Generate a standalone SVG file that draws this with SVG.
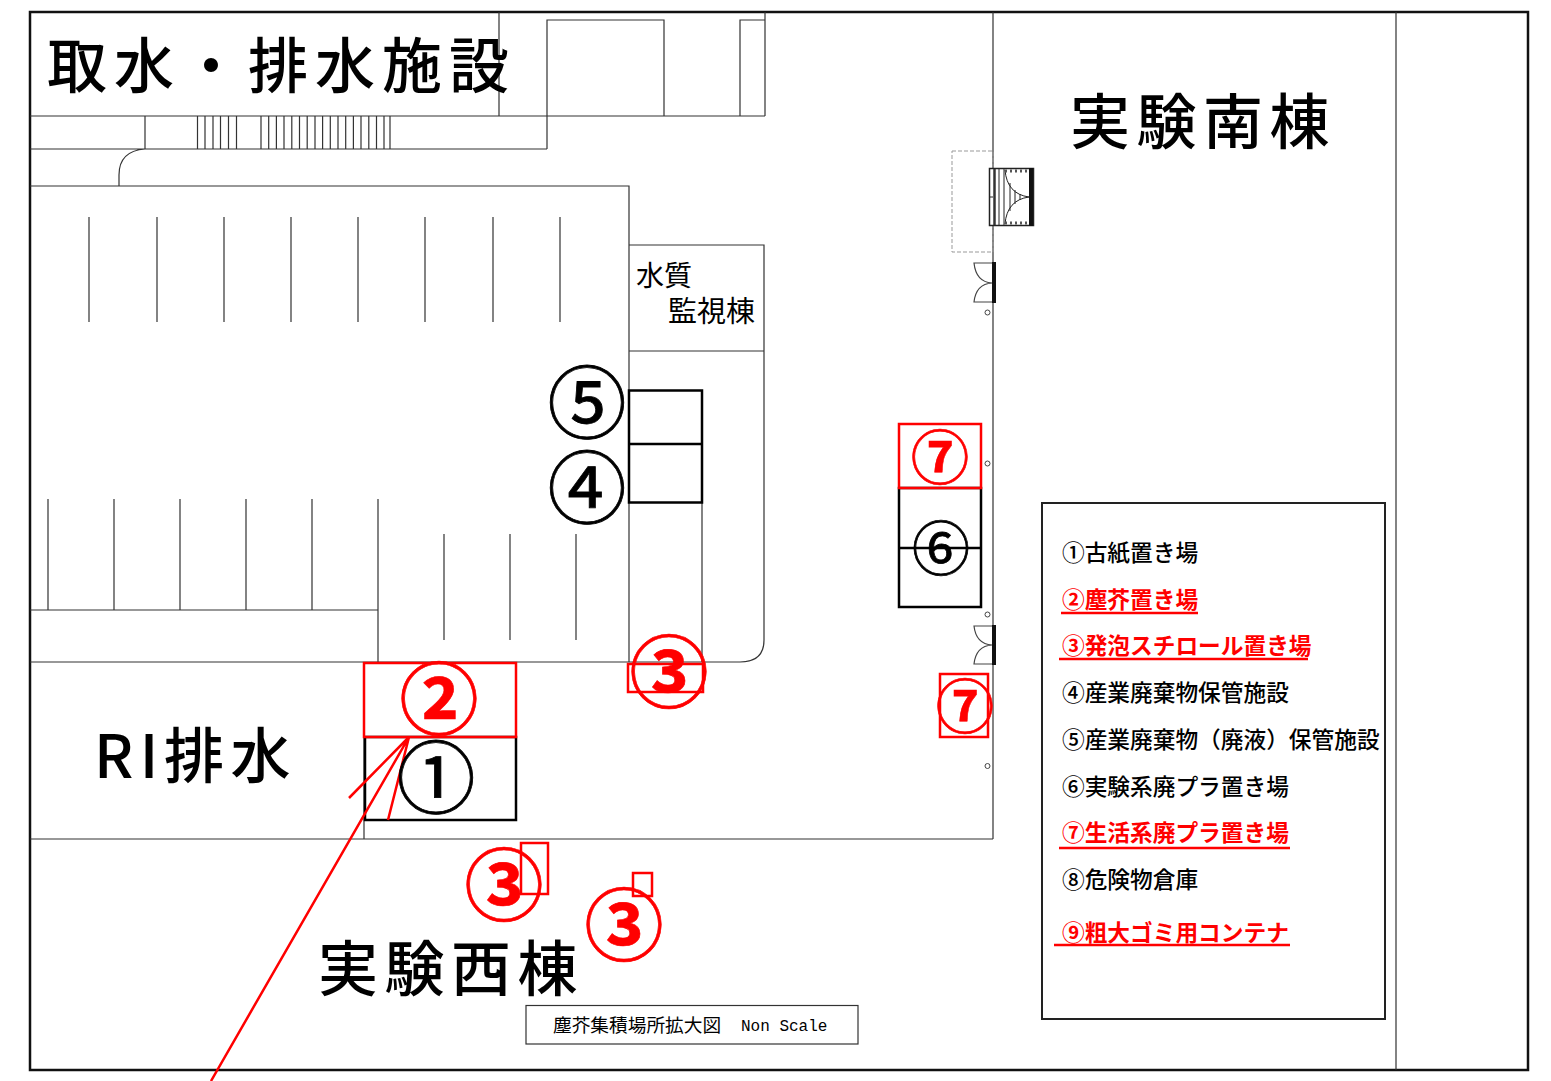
<svg xmlns="http://www.w3.org/2000/svg" width="1551" height="1081" viewBox="0 0 1551 1081">
<style>
text{font-family:"Noto Sans CJK JP","Noto Sans",sans-serif;fill:#000}
.l{fill:none;stroke:#333;stroke-width:1.2}
.k{fill:none;stroke:#000;stroke-width:2.5}
.r{fill:none;stroke:#f00;stroke-width:2.5}
.t{font-size:60px;letter-spacing:6.500px;font-weight:500}
.m{font-size:22.700px;font-weight:500}
.red{fill:#f00;font-weight:700}
.c{font-size:79px;text-anchor:middle;stroke:#000;stroke-width:.8}
.cr{fill:#f00;stroke:#f00;font-weight:700;stroke-width:.6}
.c7{font-size:58px;text-anchor:middle}
</style>
<rect width="1551" height="1081" fill="#fff"/>
<g id="plan">
<rect x="30" y="12" width="1498" height="1058" fill="none" stroke="#111" stroke-width="2.500"/>
<path class="l" d="M993 12V839M1396 12V1070M30 116H765M499 12V116M547 149V20H664V116M740 116V20H765M765 12V116M30 149H547M145 116V149M145 149Q119 151 119 175V186M30 186H629V662M629 245H764V640Q764 662 740 662H30M629 351H764M702 503V662M30 610H378M378 499V662M30 839H993M364 662V839"/>
<path class="l" stroke-width="1" d="M197.500 116V149M205 116V149M213 116V149M220.500 116V149M228.500 116V149M236.500 116V149M261 116V149M268.700 116V149M276.400 116V149M284 116V149M291.800 116V149M299.500 116V149M307.200 116V149M315 116V149M322.600 116V149M330.300 116V149M338 116V149M345.700 116V149M353.400 116V149M361 116V149M368.800 116V149M376.500 116V149M384 116V149M390 116V149"/>
<path class="l" d="M89 217V322M157 217V322M224 217V322M291 217V322M358 217V322M425 217V322M493 217V322M560 217V322M48 499V610M114 499V610M180 499V610M246 499V610M312 499V610M444 534V640M510 534V640M576 534V640"/>
<rect x="952" y="151" width="41" height="101" fill="none" stroke="#999" stroke-width="1" stroke-dasharray="4 2"/>
</g>
<g id="shutter">
<rect x="989.500" y="168.500" width="44" height="57" fill="#fff" stroke="#222" stroke-width="1.500"/>
<path fill="none" stroke="#222" stroke-width="1" d="M999 169V225M1004 169V225M1005 170Q1007 194 1029 197M1005 224Q1007 200 1029 197M1010 183V211M1015 190V204M1020 194V200M989 197H993"/>
<path fill="none" stroke="#555" stroke-width="3" stroke-dasharray="2 3" d="M1005 171H1030M1005 223H1030"/>
<path fill="none" stroke="#333" stroke-width="2.500" d="M994.500 169V225"/>
<path fill="none" stroke="#111" stroke-width="4" d="M1031 168V226"/>
</g>
<g id="doors">
<path id="door-1" fill="none" stroke="#444" stroke-width="1.200" d="M992 263H974Q976 282 992 283Q976 284 974 302H992"/>
<rect x="992" y="262" width="4" height="41" fill="#111"/>
<path id="door-2" fill="none" stroke="#444" stroke-width="1.200" d="M992 626H974Q976 644 992 645Q976 646 974 664H992"/>
<rect x="992" y="625" width="4" height="40" fill="#111"/>
<g fill="#fff" stroke="#444" stroke-width="1">
<circle cx="987.500" cy="312.500" r="2.500"/>
<circle cx="987.500" cy="463.500" r="2.500"/>
<circle cx="987.500" cy="614.500" r="2.500"/>
<circle cx="987.500" cy="766" r="2.500"/>
</g>
</g>
<g id="areas">
<rect class="k" x="629" y="390.500" width="73" height="112"/>
<path class="k" d="M629 444H702" stroke-width="2"/>
<rect class="k" x="365" y="737" width="151" height="83"/>
<rect class="k" x="899" y="488" width="82" height="119"/>
<path class="k" d="M899 548H981" stroke-width="2"/>
<rect class="r" x="364" y="663" width="152" height="74"/>
<rect class="r" x="628" y="664" width="75" height="28"/>
<rect class="r" x="521" y="843" width="27" height="51"/>
<rect class="r" x="633" y="873" width="19" height="23"/>
<rect class="r" x="899" y="424" width="82" height="64"/>
<rect class="r" x="940" y="674" width="48" height="63"/>
<path class="r" stroke-width="2" d="M409 737L211 1081M409 737L349 798M409 737L388 820"/>
</g>
<g id="labels">
<text class="t" x="47" y="88" style="letter-spacing:7px">取水・排水施設</text>
<text class="t" x="1070" y="144">実験南棟</text>
<text class="t" x="318" y="991">実験西棟</text>
<text class="t" x="94" y="778">RI</text>
<text class="t" x="164" y="778">排水</text>
<text x="636" y="286" font-size="28">水質</text>
<text x="668" y="322" font-size="29">監視棟</text>
<rect x="526" y="1005.500" width="332" height="38.500" fill="none" stroke="#333" stroke-width="1.200"/>
<text x="553" y="1032" font-size="18.700">塵芥集積場所拡大図</text>
<text x="741" y="1031" style="font-family:'Liberation Mono',monospace" font-size="16">Non Scale</text>
</g>
<g id="markers">
<text class="c" x="436" y="808">①</text>
<text class="c cr" x="439" y="728.500">②</text>
<text class="c cr" x="669" y="702">③</text>
<text class="c cr" x="504" y="915">③</text>
<text class="c cr" x="624" y="955">③</text>
<text class="c" x="587" y="518">④</text>
<text class="c" x="587" y="433">⑤</text>
<text class="c c7" x="941" y="570">⑥</text>
<text class="c c7 cr" x="940" y="479">⑦</text>
<text class="c c7 cr" x="965" y="728">⑦</text>
</g>
<g id="legend">
<rect x="1042" y="503" width="343" height="516" fill="none" stroke="#222" stroke-width="2"/>
<text class="m" x="1062" y="561">①古紙置き場</text>
<text class="m red" x="1062" y="608">②塵芥置き場</text>
<text class="m red" x="1062" y="654">③発泡スチロール置き場</text>
<text class="m" x="1062" y="701">④産業廃棄物保管施設</text>
<text class="m" x="1062" y="748">⑤産業廃棄物（廃液）保管施設</text>
<text class="m" x="1062" y="795">⑥実験系廃プラ置き場</text>
<text class="m red" x="1062" y="841">⑦生活系廃プラ置き場</text>
<text class="m" x="1062" y="888">⑧危険物倉庫</text>
<text class="m red" x="1062" y="941">⑨粗大ゴミ用コンテナ</text>
<path class="r" stroke-width="2" d="M1061 613H1198M1059 659H1308M1059 848H1290M1054 945H1290"/>
</g>
</svg>
